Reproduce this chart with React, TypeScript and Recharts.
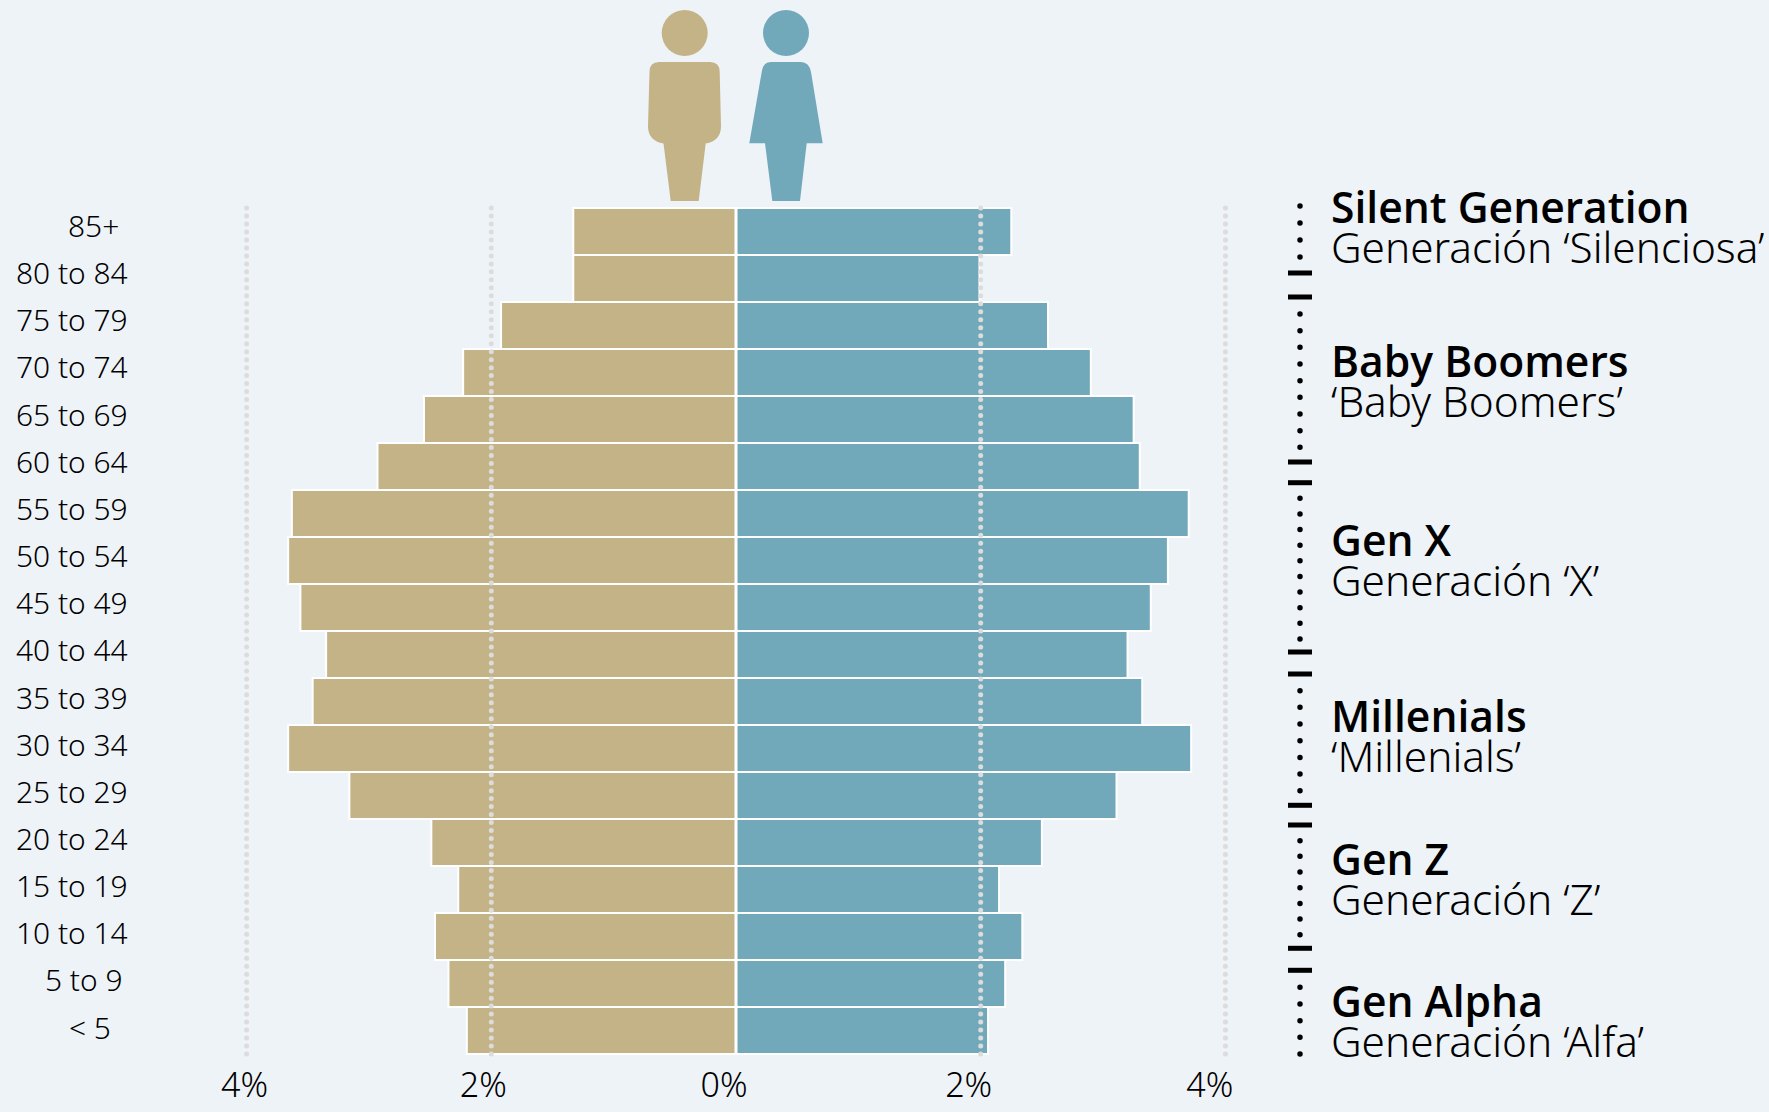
import React from 'react';
import { BarChart, Bar, XAxis, YAxis, ReferenceLine } from 'recharts';

const ageGroups = ['85+', '80 to 84', '75 to 79', '70 to 74', '65 to 69', '60 to 64', '55 to 59', '50 to 54', '45 to 49', '40 to 44', '35 to 39', '30 to 34', '25 to 29', '20 to 24', '15 to 19', '10 to 14', '5 to 9', '< 5'];
const maleShare = [1.33, 1.33, 1.92, 2.23, 2.55, 2.93, 3.63, 3.66, 3.56, 3.35, 3.46, 3.66, 3.16, 2.49, 2.27, 2.46, 2.35, 2.2];
const femaleShare = [2.25, 1.99, 2.55, 2.9, 3.25, 3.3, 3.7, 3.53, 3.39, 3.2, 3.32, 3.72, 3.11, 2.5, 2.15, 2.34, 2.2, 2.06];
const xTicks = [-4, -2, 0, 2, 4];
const gridValues = [-4, -2, 2, 4];
const generationNames = ['Silent Generation', 'Baby Boomers', 'Gen X', 'Millenials', 'Gen Z', 'Gen Alpha'];
const generationSubtitles = ['Generación ‘Silenciosa’', '‘Baby Boomers’', 'Generación ‘X’', '‘Millenials’', 'Generación ‘Z’', 'Generación ‘Alfa’'];

const data = ageGroups.map((age, i) => ({ age, male: -maleShare[i], female: femaleShare[i] }));

const FONT = '"Open Sans", sans-serif';
const LIGHT_FONT = '"Noto Sans", sans-serif';
const BG = '#eef3f8';
const TAN = '#c4b387';
const BLUE = '#72a9ba';

// the labels in the original are placed by hand, so they don't line up
const labelStart: Record<string, number> = { '85+': 68, '5 to 9': 45, '< 5': 69 };
const xLabelShift: Record<number, number> = { [-4]: -2, [-2]: -8, 0: -12, 2: -12, 4: -15.6 };

const generationBaselines = [222.7, 377.3, 556, 731.7, 875, 1016.7];
const dividers = [273, 297, 462, 482.7, 652, 674, 805.3, 825, 948.3, 970.3];
const dotRuns = [[206, 257, 17], [314, 447.5, 16.67], [498.3, 639, 15.63], [690.7, 790.7, 16.67], [840.7, 934.7, 15.67], [987.3, 1054, 16.67]];

const AgeTick = ({ y, payload, index }: any) => (
  <text x={labelStart[payload.value] ?? 16} y={y + 5.4 + index * 0.16} fontFamily={LIGHT_FONT} fontSize={29.9} fontWeight={300} fill="#000">
    {payload.value}
  </text>
);

const PercentTick = ({ x, y, payload }: any) => (
  <text x={x + xLabelShift[payload.value]} y={y + 35} textAnchor="middle" fontFamily={LIGHT_FONT} fontSize={34} fontWeight={300} fill="#000">
    {`${Math.abs(payload.value)}%`}
  </text>
);

const Overlay = () => (
  <svg width={1769} height={1112} style={{ position: 'absolute', left: 0, top: 0, pointerEvents: 'none' }}>
    <circle cx={684.7} cy={33} r={23} fill={TAN} />
    <path d="M659 62 H710 Q719.7 62 719.7 72 L721 126 Q721 141 705.7 143.5 L698.7 201 H670.7 L663.5 143.5 Q648 141 648 126 L649.5 72 Q649.5 62 659 62 Z" fill={TAN} />
    <circle cx={786} cy={33} r={23} fill={BLUE} />
    <path d="M771 62 H801 Q809 62 811 72 L822.7 143.3 H806.7 L800 201 H772.3 L765 143.3 H749.3 L761.7 72 Q763 62 771 62 Z" fill={BLUE} />
    {dotRuns.map(([from, to, gap]) => (
      <line key={from} x1={1300} x2={1300} y1={from} y2={to + 1} stroke="#000" strokeWidth={5.5} strokeLinecap="round" strokeDasharray={`0 ${gap}`} />
    ))}
    {dividers.map((y) => (
      <line key={y} x1={1288} x2={1312} y1={y} y2={y} stroke="#000" strokeWidth={5} />
    ))}
    {generationNames.map((name, i) => (
      <g key={name} fill="#000">
        <text x={1331} y={generationBaselines[i]} fontFamily={FONT} fontSize={42.6} fontWeight={600}>{name}</text>
        <text x={1331} y={generationBaselines[i] + 40} fontFamily={LIGHT_FONT} fontSize={42.3} fontWeight={300}>{generationSubtitles[i]}</text>
      </g>
    ))}
  </svg>
);

const App = () => (
  <div style={{ position: 'absolute', left: 0, top: 0, width: 1769, height: 1112, background: BG, overflow: 'hidden' }}>
    <BarChart
      width={1769}
      height={1112}
      data={data}
      layout="vertical"
      stackOffset="sign"
      barCategoryGap={0}
      margin={{ top: 208, right: 482.4, bottom: 0, left: 0 }}
    >
      <XAxis type="number" domain={[-4.5, 4.5]} ticks={xTicks} height={58} axisLine={false} tickLine={false} tick={<PercentTick />} />
      <YAxis type="category" dataKey="age" width={185.4} axisLine={false} tickLine={false} interval={0} tick={<AgeTick />} />
      <Bar dataKey="male" stackId="pop" fill={TAN} stroke="#fff" strokeWidth={2} isAnimationActive={false} />
      <Bar dataKey="female" stackId="pop" fill={BLUE} stroke="#fff" strokeWidth={2} isAnimationActive={false} />
      <ReferenceLine x={0} stroke="#fff" strokeWidth={3} />
      {gridValues.map((v) => (
        <ReferenceLine key={v} x={v} stroke="#dcdcdc" strokeWidth={5} strokeLinecap="round" strokeDasharray="0 7.981" />
      ))}
    </BarChart>
    <Overlay />
  </div>
);

export default App;
